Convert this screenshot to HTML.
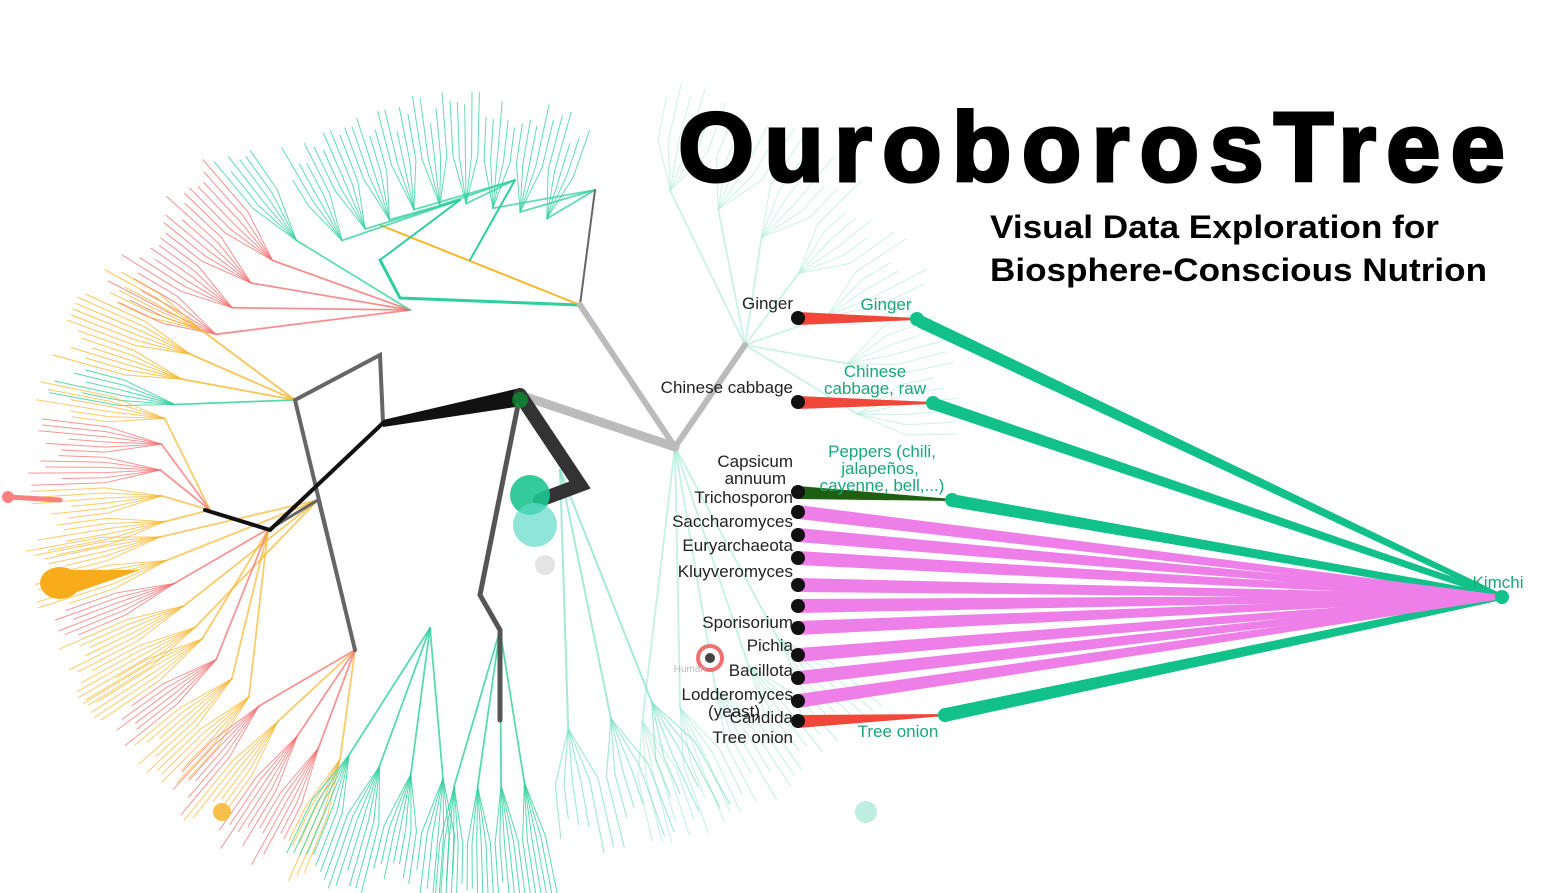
<!DOCTYPE html>
<html><head><meta charset="utf-8"><style>
html,body{margin:0;padding:0;background:#fff;width:1568px;height:893px;overflow:hidden}
svg{display:block}
</style></head><body>
<svg id="s" width="1568" height="893" viewBox="0 0 1568 893" xmlns="http://www.w3.org/2000/svg">
<g id="tree" fill="none" stroke-linecap="round"></g>
<g id="main" fill="none" stroke-linecap="round">
 <polyline points="580,305 675,447 745,345" stroke="#bbb" stroke-width="6"/>
 <line x1="520" y1="395" x2="675" y2="447" stroke="#bbb" stroke-width="9"/>
 <polyline points="383,423 380,355 295,400 355,650" stroke="#666" stroke-width="4"/>
 <polyline points="268,530 318,500 355,650" stroke="#666" stroke-width="3"/>
 <polyline points="205,510 270,530 383,423" stroke="#111" stroke-width="4"/>
 <polygon points="383,420 520,388 522,406 383,427" fill="#111" stroke="none"/>
 <polyline points="520,395 480,595 500,630 500,720" stroke="#555" stroke-width="5"/>
 <polyline points="520,395 580,485 540,500" stroke="#333" stroke-width="14"/>
 <circle cx="530" cy="495" r="20" fill="#1fc48f" opacity="0.9" stroke="none"/>
 <circle cx="535" cy="525" r="22" fill="#5fdcc8" opacity="0.7" stroke="none"/>
 <circle cx="545" cy="565" r="10" fill="#ddd" opacity="0.8" stroke="none"/>
 <circle cx="520" cy="400" r="8" fill="#0a3" opacity="0.6" stroke="none"/>
 <ellipse cx="60" cy="583" rx="20" ry="16" fill="#f7ad1b" stroke="none"/>
 <polygon points="60,570 140,570 60,598" fill="#f7ad1b" stroke="none"/>
 <circle cx="222" cy="812" r="9" fill="#f7c04a" stroke="none"/>
 <circle cx="8" cy="497" r="6" fill="#f98080" stroke="none"/>
 <line x1="8" y1="497" x2="60" y2="500" stroke="#f98080" stroke-width="5"/>
 <circle cx="866" cy="812" r="11" fill="#bfeee0" stroke="none"/>
 <circle cx="710" cy="658" r="12" stroke="#f07070" stroke-width="4" fill="#fff"/>
 <circle cx="710" cy="658" r="5" fill="#444" stroke="none"/>
</g>
<g id="right">
 <polygon points="917,313 1502,594 1502,600 917,327" fill="#12c189"/>
 <polygon points="933,397 1502,594 1502,600 933,410" fill="#12c189"/>
 <polygon points="952,494 1502,594 1502,600 952,507" fill="#12c189"/>
 <polygon points="945,708 1502,594 1502,600 945,722" fill="#12c189"/>
 <g id="mag"></g>
 <polygon points="798,312 917,318 917,320 798,325" fill="#f0473a"/>
 <polygon points="798,396 933,402 933,404 798,409" fill="#f0473a"/>
 <polygon points="798,486 952,499 952,501 798,499" fill="#1f5f12"/>
 <polygon points="798,715 945,714 945,716 798,728" fill="#f0473a"/>
 <g fill="#12c189"><circle cx="917" cy="319" r="7"/><circle cx="933" cy="403" r="7"/><circle cx="952" cy="500" r="7"/><circle cx="945" cy="715" r="7"/><circle cx="1502" cy="597" r="7"/></g>
 <g id="dots" fill="#111"></g>
</g>
<g font-family="Liberation Sans, sans-serif" font-size="17" fill="#222" text-anchor="end">
 <text x="793" y="309">Ginger</text>
 <text x="793" y="393">Chinese cabbage</text>
 <text x="793" y="467">Capsicum</text>
 <text x="786" y="484">annuum</text>
 <text x="793" y="503">Trichosporon</text>
 <text x="793" y="527">Saccharomyces</text>
 <text x="793" y="551">Euryarchaeota</text>
 <text x="793" y="577">Kluyveromyces</text>
 <text x="793" y="628">Sporisorium</text>
 <text x="793" y="651">Pichia</text>
 <text x="793" y="676">Bacillota</text>
 <text x="793" y="700">Lodderomyces</text>
 <text x="793" y="723">Candida</text>
 <text x="760" y="717">(yeast)</text>
 <text x="793" y="743">Tree onion</text>
 <text x="706" y="672" font-size="10" fill="#bbb">Human</text>
</g>
<g font-family="Liberation Sans, sans-serif" font-size="17" fill="#18a878" text-anchor="middle">
 <text x="886" y="310">Ginger</text>
 <text x="875" y="377">Chinese</text>
 <text x="875" y="394">cabbage, raw</text>
 <text x="882" y="457">Peppers (chili,</text>
 <text x="880" y="474">jalapeños,</text>
 <text x="882" y="491">cayenne, bell,...)</text>
 <text x="898" y="737">Tree onion</text>
 <text x="1498" y="588">Kimchi</text>
</g>
<text x="678" y="181" font-family="Liberation Sans, sans-serif" font-weight="bold" font-size="98" fill="#000" stroke="#000" stroke-width="3" textLength="827" lengthAdjust="spacing">OuroborosTree</text>
<g font-family="Liberation Sans, sans-serif" font-weight="bold" font-size="32" fill="#000">
 <text x="990" y="238" textLength="449" lengthAdjust="spacingAndGlyphs">Visual Data Exploration for</text>
 <text x="990" y="281" textLength="497" lengthAdjust="spacingAndGlyphs">Biosphere-Conscious Nutrion</text>
</g>
</svg>
<script>
(function(){
var NS="http://www.w3.org/2000/svg";
var seed=7;function r(){seed=(seed*16807)%2147483647;return seed/2147483647;}
var tree=document.getElementById('tree');
function line(pts,c,w,o){var p=document.createElementNS(NS,'polyline');p.setAttribute('points',pts.map(function(q){return q[0].toFixed(1)+','+q[1].toFixed(1)}).join(' '));p.setAttribute('stroke',c);p.setAttribute('stroke-width',w);if(o)p.setAttribute('opacity',o);tree.appendChild(p);}
var T='#2ecf9c',R='#f26a6a',O='#f7b52c',L='#a8ead6';
function cluster(hx,hy,cx,cy,a0,a1,R0,n,col,w,op,mix){
 var g=Math.max(2,Math.round(n/6));
 for(var k=0;k<g;k++){
  var am=a0+(a1-a0)*(k+0.5)/g;var rm=R0*0.72;
  var sx=cx+rm*Math.cos(am*Math.PI/180),sy=cy+rm*Math.sin(am*Math.PI/180);
  var c0=col; if(mix&&r()<0.4)c0=mix;
  line([[hx,hy],[sx,sy]],c0,w+0.8,op);
  var m=Math.round(n/g);
  for(var j=0;j<m;j++){
   var a=a0+(a1-a0)*(k+(j+0.5)/m)/g;var rr=R0*(0.93+r()*0.1);
   var mx=cx+R0*0.85*Math.cos(a*Math.PI/180),my=cy+R0*0.85*Math.sin(a*Math.PI/180);
   var tx=cx+rr*Math.cos(a*Math.PI/180),ty=cy+rr*Math.sin(a*Math.PI/180);
   line([[sx,sy],[mx,my],[tx,ty]],c0,w,op);
  }
 }
}
var cx=470,cy=470;
line([[580,305],[400,298],[380,260]],T,3);
line([[580,305],[380,225]],O,2);
cluster(460,200,cx,cy,238,255,365,16,T,1,0.75);
cluster(515,180,cx,cy,255,272,370,16,T,1,0.75);
cluster(595,190,cx,cy,272,290,365,16,T,1,0.75);
line([[380,260],[460,200]],T,2);line([[470,260],[515,180]],T,2);line([[580,305],[595,190]],'#666',2);
cluster(410,310,cx,cy,205,236,400,28,R,1,0.75,T);
cluster(295,400,cx,cy,190,210,420,22,T,1,0.8,O);
cluster(210,510,cx,cy,168,192,430,28,O,1,0.7,R);
cluster(318,500,cx,cy,148,170,440,28,R,1,0.7,O);
cluster(268,530,cx,cy,132,150,440,24,O,1,0.7,R);
cluster(355,650,cx,cy,112,134,440,28,O,1,0.7,R);
cluster(430,628,cx,cy,92,116,430,26,T,1,0.8);
cluster(500,630,cx,cy,78,95,440,22,T,1,0.8,R);
cluster(745,345,600,440,280,360,360,40,L,1,0.6);
cluster(675,447,560,430,40,78,420,30,L,1.1,0.65);
cluster(560,470,520,430,60,85,420,18,'#7fe0c4',1.2,0.7);
var ys=[318,402,492,512,535,558,585,606,628,655,678,701,721];
var mag=document.getElementById('mag'),dots=document.getElementById('dots');
ys.forEach(function(y,i){
 if(i>=3&&i<=11){var p=document.createElementNS(NS,'polygon');p.setAttribute('points','798,'+(y-7)+' 1502,595 1502,599 798,'+(y+7));p.setAttribute('fill','#ee7ee8');mag.appendChild(p);}
 var c=document.createElementNS(NS,'circle');c.setAttribute('cx',798);c.setAttribute('cy',y);c.setAttribute('r',7);dots.appendChild(c);
});
})();
</script>
</body></html>
